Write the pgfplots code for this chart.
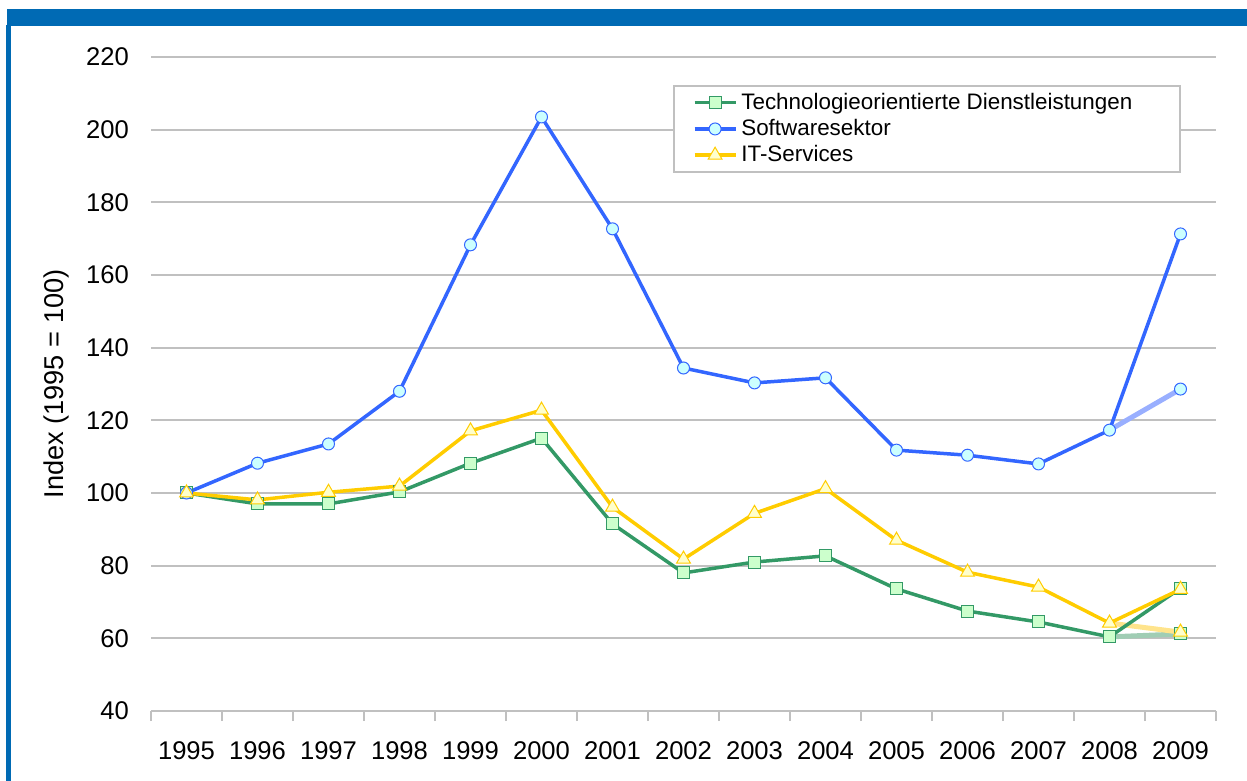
\documentclass[border=0pt]{standalone}
\usepackage{fontspec}
\setmainfont{Liberation Sans}
\usepackage{pgfplots}
\pgfplotsset{compat=1.18}
\definecolor{framebl}{RGB}{0,106,180}
\definecolor{swblue}{RGB}{51,102,255}
\definecolor{swfill}{RGB}{204,255,255}
\definecolor{swfade}{RGB}{153,175,255}
\definecolor{tgreen}{RGB}{51,153,102}
\definecolor{tfill}{RGB}{204,255,204}
\definecolor{tfade}{RGB}{160,205,180}
\definecolor{ityel}{RGB}{255,204,0}
\definecolor{itfill}{RGB}{255,255,204}
\definecolor{itfade}{RGB}{255,228,140}
\definecolor{gridgray}{RGB}{192,192,192}
\begin{document}
\begin{tikzpicture}
\path[use as bounding box] (0,0) rectangle (623.5pt,390.5pt);
\fill[framebl] (3.5pt,377.6pt) rectangle (623.5pt,386pt);
\fill[framebl] (3pt,0pt) rectangle (5.5pt,377.8pt);
\begin{axis}[
  at={(75.5pt,35pt)}, anchor=south west,
  scale only axis, width=532.5pt, height=327pt,
  xmin=-0.5, xmax=14.5, ymin=40, ymax=220,
  xtick={0,...,14},
  xticklabels={1995,1996,1997,1998,1999,2000,2001,2002,2003,2004,2005,2006,2007,2008,2009},
  minor xtick={-0.5,0.5,...,14.5},
  ytick={40,60,...,220},
  ymajorgrids, grid style={gridgray, line width=1pt},
  axis x line*=bottom, axis y line*=left,
  every outer x axis line/.append style={-},
  every outer y axis line/.append style={-},
  x axis line style={gridgray, line width=1pt, -},
  y axis line style={draw=none},
  major tick length=0pt,
  minor tick length=5pt,
  tick align=outside,
  minor x tick style={gridgray, line width=1pt},
  major tick style={draw=none},
  /pgf/number format/assume math mode=true,
  ticklabel style={font=\fontsize{12.8}{15}\selectfont},
  yticklabel style={xshift=-7.5pt},
  xticklabel style={yshift=-12pt},
  ylabel={Index (1995 = 100)},
  ylabel style={font=\fontsize{13.6}{16}\selectfont, xshift=0pt, yshift=1.5pt},
  legend style={at={(0.490,0.957)}, anchor=north west, draw=gridgray, line width=1pt,
    font=\fontsize{11.2}{13.5}\selectfont, inner xsep=9.5pt, inner ysep=1.5pt, row sep=-0.5pt},
  legend cell align=left,
  legend image code/.code={\draw[mark repeat=2,mark phase=2] plot coordinates {(0cm,0cm) (0.36cm,0cm) (0.72cm,0cm)};},
]
% faded alternative 2009 values
\addplot[tfade, line width=2.5pt, mark=square*, mark size=3pt, mark options={fill=tfill, draw=tgreen, line width=0.5pt}, mark indices={2}, forget plot]
  coordinates {(13,60.4) (14,61.2)};
\addplot[swfade, line width=2.5pt, mark=*, mark size=3pt, mark options={fill=swfill, draw=swblue, line width=0.5pt}, mark indices={2}, forget plot]
  coordinates {(13,117.3) (14,128.6)};
\addplot[itfade, line width=2.5pt, mark=triangle*, mark size=4pt, mark options={fill=itfill, draw=ityel, line width=0.5pt}, mark indices={2}, forget plot]
  coordinates {(13,64.2) (14,61.7)};
% main series
\addplot[tgreen, line width=1.75pt, mark=square*, mark size=3pt, mark options={fill=tfill, draw=tgreen, line width=0.5pt}]
  coordinates {(0,100) (1,97.0) (2,97.0) (3,100.3) (4,108.2) (5,115.1) (6,91.5) (7,78.0) (8,81.0) (9,82.7) (10,73.6) (11,67.5) (12,64.5) (13,60.4) (14,73.8)};
\addlegendentry{Technologieorientierte Dienstleistungen\rule{12.5pt}{0pt}}
\addplot[swblue, line width=1.75pt, mark=*, mark size=3pt, mark options={fill=swfill, draw=swblue, line width=0.5pt}]
  coordinates {(0,100) (1,108.2) (2,113.5) (3,128.0) (4,168.3) (5,203.5) (6,172.7) (7,134.4) (8,130.3) (9,131.7) (10,111.8) (11,110.4) (12,108.0) (13,117.3) (14,171.3)};
\addlegendentry{Softwaresektor}
\addplot[ityel, line width=1.75pt, mark=triangle*, mark size=4pt, mark options={fill=itfill, draw=ityel, line width=0.5pt}]
  coordinates {(0,100) (1,98.1) (2,100.2) (3,101.9) (4,117.1) (5,122.8) (6,96.1) (7,81.8) (8,94.4) (9,101.2) (10,87.0) (11,78.2) (12,74.1) (13,64.2) (14,73.5)};
\addlegendentry{IT-Services}
\end{axis}
\end{tikzpicture}
\end{document}
